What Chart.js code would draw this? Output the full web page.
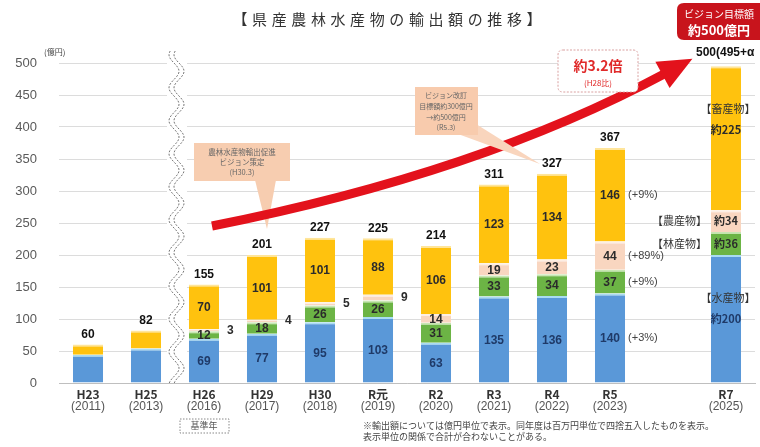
<!DOCTYPE html>
<html>
<head>
<meta charset="utf-8">
<script src="https://cdn.jsdelivr.net/npm/chart.js@4.4.1/dist/chart.umd.min.js"></script>
<style>
  html, body { margin: 0; background: #fff; }
  #wrap { width: 760px; height: 447px; }
</style>
</head>
<body>
<div id="wrap"><canvas id="chart"></canvas></div>
<script>
// categories (empty slot = gap before the target year)
const categories = ['H23', 'H25', 'H26', 'H29', 'H30', 'R元', 'R2', 'R3', 'R4', 'R5', '', 'R7'];
const years = ['(2011)', '(2013)', '(2016)', '(2017)', '(2018)', '(2019)', '(2020)', '(2021)', '(2022)', '(2023)', '', '(2025)'];

// export values, 億円
const fishery   = [44, 54, 69, 77, 95, 103, 63, 135, 136, 140, null, 200];
const forestry  = [null, null, 12, 18, 26, 26, 31, 33, 34, 37, null, 36];
const agri      = [null, null, 3, 4, 5, 9, 14, 19, 23, 44, null, 34];
const livestock = [16, 28, 70, 101, 101, 88, 106, 123, 134, 146, null, 225];
const totals    = ['60', '82', '155', '201', '227', '225', '214', '311', '327', '367', '', '500(495+α'];

// R5 year-on-year change, same order as the datasets
const r5Change = ['(+3%)', '(+9%)', '(+89%)', '(+9%)'];
const r7Names = ['【水産物】', '【林産物】', '【農産物】', '【畜産物】'];

const yTicks = [0, 50, 100, 150, 200, 250, 300, 350, 400, 450, 500];

const JP = '"Noto Sans CJK JP", sans-serif';
const NUM = '"Liberation Sans", Arial, sans-serif';

function box(ctx, x, y, w, h, r) {
    ctx.beginPath();
    ctx.moveTo(x + r, y);
    ctx.lineTo(x + w - r, y);
    ctx.quadraticCurveTo(x + w, y, x + w, y + r);
    ctx.lineTo(x + w, y + h - r);
    ctx.quadraticCurveTo(x + w, y + h, x + w - r, y + h);
    ctx.lineTo(x + r, y + h);
    ctx.quadraticCurveTo(x, y + h, x, y + h - r);
    ctx.lineTo(x, y + r);
    ctx.quadraticCurveTo(x, y, x + r, y);
    ctx.closePath();
}

// white band + wavy break line between H25 and H26
const breakPlugin = {
    id: 'breakLine',
    beforeDatasetsDraw(chart) {
        const ctx = chart.ctx;
        const xs = chart.scales.x;
        const area = chart.chartArea;
        const cx = (xs.getPixelForValue(1) + xs.getPixelForValue(2)) / 2 + 2;
        ctx.save();
        ctx.fillStyle = '#fff';
        ctx.fillRect(cx - 10, area.top - 15, 20, area.bottom - area.top + 14);
        ctx.strokeStyle = '#777';
        ctx.lineWidth = 1;
        ctx.setLineDash([2, 1.5]);
        [-3, 2].forEach(off => {
            ctx.beginPath();
            for (let py = area.top - 12; py <= area.bottom; py += 1) {
                const px = cx + off + 5 * Math.sin((py - area.top) / 33 * Math.PI * 2);
                if (py === area.top - 12) ctx.moveTo(px, py); else ctx.lineTo(px, py);
            }
            ctx.stroke();
        });
        ctx.restore();
    }
};

const labelPlugin = {
    id: 'labels',
    afterDatasetsDraw(chart) {
        const ctx = chart.ctx;
        const xs = chart.scales.x;
        const ys = chart.scales.y;
        ctx.save();
        ctx.textBaseline = 'middle';

        chart.data.datasets.forEach((ds, di) => {
            const meta = chart.getDatasetMeta(di);
            meta.data.forEach((bar, i) => {
                const v = ds.data[i];
                if (v == null || i < 2) return;
                const cy = (bar.y + bar.base) / 2;
                ctx.fillStyle = di === 0 ? '#1f3a68' : '#2b2b2b';
                if (i === 11) {
                    ctx.font = 'bold 11px ' + JP;
                    ctx.textAlign = 'center';
                    const ly = di === 3 ? cy - 8 : cy;
                    ctx.fillText('約' + v, bar.x, ly);
                    ctx.font = '11px ' + JP;
                    ctx.fillStyle = '#333';
                    if (di === 1 || di === 2) {
                        ctx.textAlign = 'right';
                        ctx.fillText(r7Names[di], bar.x - bar.width / 2 - 4, ly);
                    } else {
                        ctx.fillText(r7Names[di], bar.x + 2, ly - 21);
                    }
                    return;
                }
                ctx.font = 'bold 12px ' + NUM;
                if (v < 10) {
                    ctx.textAlign = 'left';
                    ctx.fillStyle = '#2b2b2b';
                    ctx.fillText(v, bar.x + bar.width / 2 + 8, cy);
                } else {
                    ctx.textAlign = 'center';
                    ctx.fillText(v, bar.x, cy + 1);
                }
                if (i === 9) {
                    ctx.font = '11px ' + NUM;
                    ctx.textAlign = 'left';
                    ctx.fillStyle = '#444';
                    ctx.fillText(r5Change[di], bar.x + bar.width / 2 + 3, cy);
                }
            });
        });

        // totals above the bars
        ctx.font = 'bold 12px ' + NUM;
        ctx.fillStyle = '#111';
        ctx.textBaseline = 'bottom';
        categories.forEach((c, i) => {
            if (!totals[i]) return;
            const sum = [fishery, forestry, agri, livestock].reduce((s, a) => s + (a[i] || 0), 0);
            const px = xs.getPixelForValue(i);
            const py = ys.getPixelForValue(sum) - 4;
            if (i === 11) {
                ctx.textAlign = 'left';
                ctx.fillText(totals[i], px - 30, py - 4);
            } else {
                ctx.textAlign = 'center';
                ctx.fillText(totals[i], px, py);
            }
        });
        ctx.restore();
    },
    afterDraw(chart) {
        const ctx = chart.ctx;
        const xs = chart.scales.x;
        const area = chart.chartArea;
        ctx.save();

        // title
        const title = '【県産農林水産物の輸出額の推移】';
        ctx.font = '15px ' + JP;
        ctx.fillStyle = '#333';
        ctx.textAlign = 'center';
        ctx.textBaseline = 'middle';
        for (let k = 0; k < title.length; k++) {
            ctx.fillText(title[k], 240 + k * 19.6, 19);
        }

        // unit
        ctx.font = '8px ' + JP;
        ctx.fillStyle = '#444';
        ctx.textAlign = 'left';
        ctx.fillText('(億円)', 44, 52);

        // category labels
        categories.forEach((c, i) => {
            if (!c) return;
            const px = xs.getPixelForValue(i);
            ctx.textAlign = 'center';
            ctx.font = 'bold 12px ' + JP;
            ctx.fillStyle = '#333';
            ctx.fillText(c, px, area.bottom + 11);
            ctx.font = '12px ' + NUM;
            ctx.fillStyle = '#555';
            ctx.fillText(years[i], px, area.bottom + 24);
        });

        // base year tag
        const bx = xs.getPixelForValue(2);
        ctx.strokeStyle = '#888';
        ctx.setLineDash([1.5, 1.5]);
        ctx.lineWidth = 1;
        ctx.strokeRect(bx - 24, area.bottom + 36, 49, 14);
        ctx.setLineDash([]);
        ctx.font = '9px ' + JP;
        ctx.fillStyle = '#555';
        ctx.fillText('基準年', bx, area.bottom + 43);

        // footnote
        ctx.textAlign = 'left';
        ctx.font = '9px ' + JP;
        ctx.fillStyle = '#444';
        ctx.fillText('※輸出額については億円単位で表示。同年度は百万円単位で四捨五入したものを表示。', 363, 426);
        ctx.fillText('表示単位の関係で合計が合わないことがある。', 363, 437);

        // callout: vision策定
        ctx.fillStyle = '#f7cdb0';
        ctx.beginPath();
        ctx.moveTo(255, 180);
        ctx.lineTo(267, 229);
        ctx.lineTo(276, 180);
        ctx.closePath();
        ctx.fill();
        ctx.fillRect(194, 143, 96, 38);
        ctx.fillStyle = '#666';
        ctx.font = '7.5px ' + JP;
        ctx.textAlign = 'center';
        ctx.fillText('農林水産物輸出促進', 242, 152);
        ctx.fillText('ビジョン策定', 242, 162);
        ctx.fillText('(H30.3)', 242, 172);

        // red arrow
        const p0 = [212, 226], c1 = [480, 173], p1 = [666, 73];
        ctx.strokeStyle = '#e3121c';
        ctx.lineWidth = 9;
        ctx.lineCap = 'butt';
        ctx.beginPath();
        ctx.moveTo(p0[0], p0[1]);
        ctx.quadraticCurveTo(c1[0], c1[1], p1[0], p1[1]);
        ctx.stroke();
        const dx = p1[0] - c1[0], dy = p1[1] - c1[1];
        const len = Math.hypot(dx, dy);
        const ux = dx / len, uy = dy / len;
        const tip = [p1[0] + ux * 30, p1[1] + uy * 30];
        const back = [p1[0] - ux * 4, p1[1] - uy * 4];
        ctx.fillStyle = '#e3121c';
        ctx.beginPath();
        ctx.moveTo(tip[0], tip[1]);
        ctx.lineTo(back[0] - uy * 15, back[1] + ux * 15);
        ctx.lineTo(back[0] + uy * 15, back[1] - ux * 15);
        ctx.closePath();
        ctx.fill();

        // callout: vision改訂
        ctx.fillStyle = '#f9d5bd';
        ctx.beginPath();
        ctx.moveTo(458, 134);
        ctx.lineTo(540, 164);
        ctx.lineTo(476, 124);
        ctx.closePath();
        ctx.fill();
        ctx.fillStyle = '#f8cbad';
        ctx.fillRect(415, 87, 63, 48);
        ctx.fillStyle = '#666';
        ctx.font = '7px ' + JP;
        ctx.fillText('ビジョン改訂', 446, 95);
        ctx.fillText('目標額約300億円', 446, 106);
        ctx.fillText('→約500億円', 446, 117);
        ctx.fillText('(R5.3)', 446, 127);

        // 約3.2倍 box
        box(ctx, 558, 50, 80, 42, 5);
        ctx.fillStyle = '#fff';
        ctx.fill();
        ctx.strokeStyle = '#d9a0a0';
        ctx.setLineDash([2, 1.5]);
        ctx.lineWidth = 1;
        ctx.stroke();
        ctx.setLineDash([]);
        ctx.fillStyle = '#e02a2a';
        ctx.font = 'bold 14px ' + JP;
        ctx.fillText('約3.2倍', 598, 66);
        ctx.font = '8px ' + JP;
        ctx.fillText('(H28比)', 598, 83);

        // target box
        box(ctx, 677, 3, 90, 37, 7);
        ctx.fillStyle = '#c8141c';
        ctx.fill();
        ctx.fillStyle = '#fff';
        ctx.font = '10px ' + JP;
        ctx.fillText('ビジョン目標額', 719, 14);
        ctx.font = 'bold 13px ' + JP;
        ctx.fillText('約500億円', 719, 30);

        ctx.restore();
    }
};

const ctx = document.getElementById('chart').getContext('2d');
const exportChart = new Chart(ctx, {
    type: 'bar',
    data: {
        labels: categories,
        datasets: [
            { label: '水産物', data: fishery, backgroundColor: '#5a98d8', borderColor: '#a9dcf2' },
            { label: '林産物', data: forestry, backgroundColor: '#6cb445', borderColor: '#c8e6b3' },
            { label: '農産物', data: agri, backgroundColor: '#f9d6c0', borderColor: '#fdeee4' },
            { label: '畜産物', data: livestock, backgroundColor: '#ffc20e', borderColor: '#ffe59a' }
        ]
    },
    options: {
        responsive: true,
        maintainAspectRatio: false,
        animation: false,
        layout: { padding: { top: 63, right: 5, left: 0, bottom: 0 } },
        datasets: {
            bar: { barPercentage: 0.52, categoryPercentage: 1, borderWidth: { top: 2 } }
        },
        plugins: {
            legend: { display: false },
            tooltip: { enabled: false }
        },
        scales: {
            x: {
                stacked: true,
                grid: { display: false },
                border: { display: true, color: '#bfbfbf' },
                ticks: { display: false },
                afterFit: (s) => { s.height = 64; }
            },
            y: {
                stacked: true,
                min: 0,
                max: 500,
                afterBuildTicks: (s) => { s.ticks = yTicks.map(v => ({ value: v })); },
                grid: { color: '#dcdcdc', drawTicks: false },
                border: { display: false },
                ticks: {
                    padding: 22,
                    color: '#5a5a5a',
                    font: { family: NUM, size: 13 }
                },
                afterFit: (s) => { s.width = 59; }
            }
        }
    },
    plugins: [breakPlugin, labelPlugin]
});
</script>
</body>
</html>
